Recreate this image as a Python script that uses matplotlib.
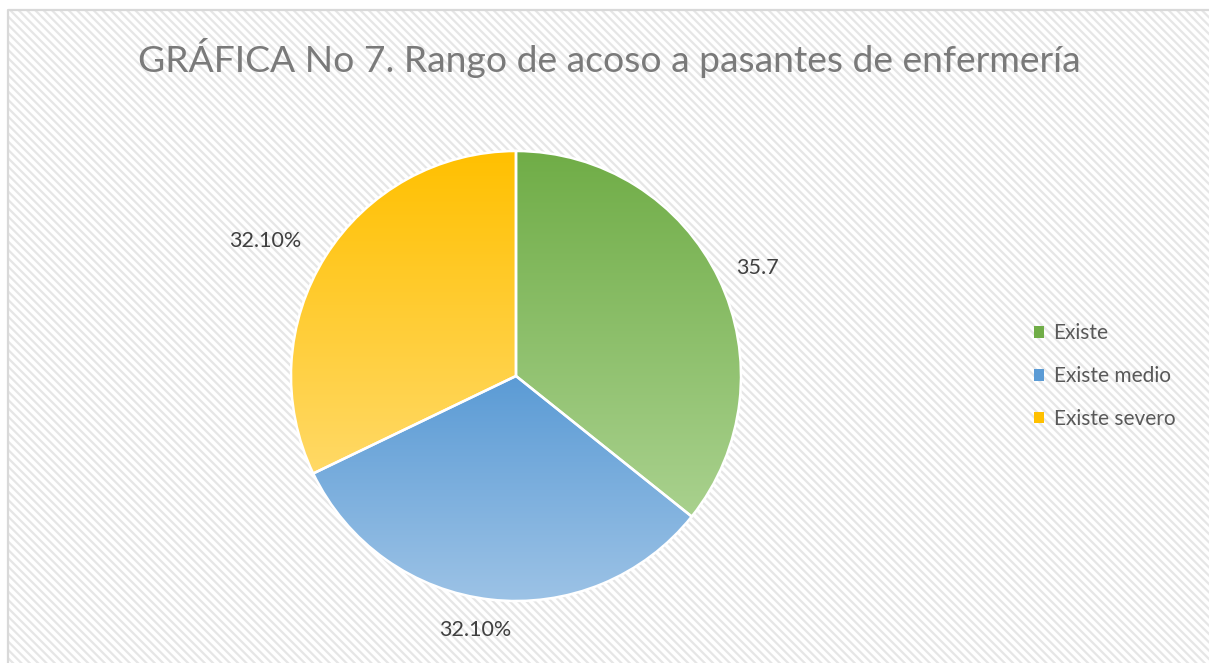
import numpy as np
import matplotlib
matplotlib.use("Agg")
import matplotlib.pyplot as plt
from matplotlib.patches import Rectangle, Patch
from matplotlib.colors import to_rgb

# ---- data ----
categories = ["Existe", "Existe medio", "Existe severo"]
values = [35.7, 32.1, 32.1]
value_labels = ["35.7", "32.10%", "32.10%"]
title = "GRÁFICA No 7. Rango de acoso a pasantes de enfermería"

# ---- styles ----
top_colors = ["#70AD47", "#5B9BD5", "#FFC000"]
bottom_colors = ["#A9D18E", "#9DC3E6", "#FFD966"]
W, H = 1209, 663
FONT = ["Lato", "DejaVu Sans"]
plt.rcParams["hatch.linewidth"] = 1.6

fig = plt.figure(figsize=(W / 100, H / 100), dpi=100)
ax = fig.add_axes([0, 0, 1, 1])

# pie
cx, cy, r = 516, H - 376, 225
wedges, _ = ax.pie(values, startangle=90, counterclock=False, center=(cx, cy),
                   radius=r, colors=top_colors,
                   wedgeprops=dict(edgecolor="white", linewidth=1.8),
                   frame=True)
ax.set_xlim(0, W)
ax.set_ylim(0, H)
ax.set_aspect("equal")
ax.axis("off")

# background with diagonal hatching
bg = Rectangle((7, -5), W, H - 9 + 5, facecolor="white", edgecolor="#e6e6e6",
               hatch="\\\\\\\\", linewidth=0, zorder=0)
ax.add_patch(bg)
ax.plot([7.5, 7.5, W + 5], [-5, H - 9.5, H - 9.5], color="#d9d9d9", lw=1.6,
        zorder=1, solid_capstyle="butt")

for w, c0, c1 in zip(wedges, top_colors, bottom_colors):
    path = w.get_path()
    verts = w.get_transform().transform(path.vertices)
    verts = ax.transData.inverted().transform(verts)
    ytop, ybot = verts[:, 1].max(), verts[:, 1].min()
    n = 256
    t = np.linspace(0, 1, n)[:, None]
    a, b = np.array(to_rgb(c0)), np.array(to_rgb(c1))
    grad = (a[None, :] * (1 - t) + b[None, :] * t)[:, None, :]
    im = ax.imshow(grad, extent=(cx - r - 2, cx + r + 2, ybot, ytop),
                   origin="upper", aspect="auto", zorder=w.get_zorder() + 0.1,
                   interpolation="bilinear")
    im.set_clip_path(w)
    w.set_facecolor("none")
    w.set_zorder(w.get_zorder() + 0.2)

ax.set_xlim(0, W)
ax.set_ylim(0, H)

# value labels
label_pos = [(757, H - 268), (265, H - 241), (475, H - 630)]
for (x, y), s in zip(label_pos, value_labels):
    ax.text(x, y, s, ha="center", va="center", fontsize=15.5, color="#404040",
            family=FONT, zorder=5)

# title
ax.text(609, H - 58, title, ha="center", va="center", fontsize=26.8,
        color="#7a7a7a", family=FONT, zorder=5)

# legend
handles = [Patch(facecolor=c, edgecolor="none") for c in top_colors]
leg = ax.legend(handles, categories, loc="center left",
                bbox_to_anchor=(1015 / W, 1 - 376 / H), frameon=False,
                handlelength=0.5, handleheight=0.5, handletextpad=0.45,
                labelspacing=1.1, prop={"family": FONT, "size": 15})
for t in leg.get_texts():
    t.set_color("#595959")

fig.savefig("out.png", dpi=100)
